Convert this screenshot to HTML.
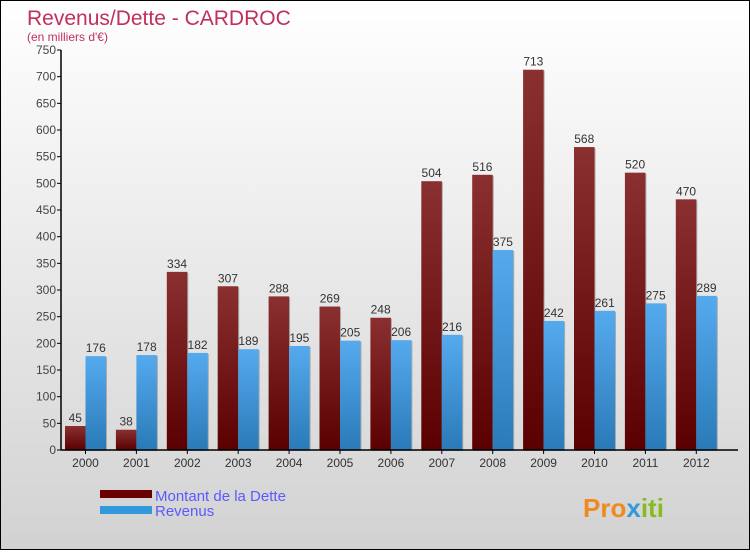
<!DOCTYPE html>
<html><head><meta charset="utf-8"><style>
body{margin:0;width:750px;height:550px;overflow:hidden;font-family:"Liberation Sans",sans-serif}
#c{position:relative;width:748px;height:548px;border:1px solid #000;background:linear-gradient(#ffffff,#d2d2d2)}
</style></head><body>
<div id="c">
<svg id="s" width="748" height="548" xmlns="http://www.w3.org/2000/svg">
<text x="26" y="24" font-size="21" fill="#c0305a">Revenus/Dette - CARDROC</text>
<text x="26" y="40" font-size="12" fill="#c0305a">(en milliers d'€)</text>
<g id="g"></g>
<rect x="99" y="489" width="52" height="8" fill="#6a0000"/>
<text x="154" y="500" font-size="15" fill="#5a5aff">Montant de la Dette</text>
<rect x="99" y="505" width="52" height="8" fill="#3399dd"/>
<text x="154" y="515" font-size="15" fill="#5a5aff">Revenus</text>
<text x="582" y="516" font-size="26" font-weight="bold" fill="#f08a20">Pro<tspan fill="#3399dd">x</tspan><tspan fill="#88bb22">iti</tspan></text>
</svg></div>
<script>
const years=["2000","2001","2002","2003","2004","2005","2006","2007","2008","2009","2010","2011","2012"];
const dette=[45,38,334,307,288,269,248,504,516,713,568,520,470];
const revenus=[176,178,182,189,195,205,206,216,375,242,261,275,289];
const ticks=[0,50,100,150,200,250,300,350,400,450,500,550,600,650,700,750];
const NS="http://www.w3.org/2000/svg",g=document.getElementById('g');
const y0=449,x0=60,step=50.9,bw=20.5;
const Y=v=>y0-v*400/750;
const X=i=>x0+4+i*step;
function mk(t,a,txt){const e=document.createElementNS(NS,t);for(const k in a)e.setAttribute(k,a[k]);if(txt!==undefined)e.textContent=txt;g.appendChild(e);return e;}
const defs=mk('defs',{});
defs.innerHTML='<linearGradient id="gd" x1="0" y1="0" x2="0" y2="1"><stop offset="0" stop-color="#8a3030"/><stop offset="1" stop-color="#5a0000"/></linearGradient><linearGradient id="gr" x1="0" y1="0" x2="0" y2="1"><stop offset="0" stop-color="#55aaee"/><stop offset="1" stop-color="#2a7ab8"/></linearGradient>';
ticks.forEach(t=>{
const l=mk('line',{x1:x0-4,x2:x0,y1:Y(t),y2:Y(t),stroke:'#000'});

const tx=mk('text',{x:x0-5,y:Y(t)+4,'text-anchor':'end','font-size':12,fill:'#444'},t);

});
years.forEach((yr,i)=>{
const xd=X(i),xr=xd+bw;
const sd=mk('rect',{x:xd+1,y:Y(dette[i])+1,width:bw,height:y0-Y(dette[i]),fill:'#aaa'});

const bd=mk('rect',{x:xd,y:Y(dette[i]),width:bw,height:y0-Y(dette[i]),fill:'url(#gd)'});

const sr=mk('rect',{x:xr+1,y:Y(revenus[i])+1,width:bw,height:y0-Y(revenus[i]),fill:'#aaa'});

const br=mk('rect',{x:xr,y:Y(revenus[i]),width:bw,height:y0-Y(revenus[i]),fill:'url(#gr)'});

const ld=mk('text',{x:xd+bw/2,y:Y(dette[i])-4,'text-anchor':'middle','font-size':12,fill:'#333'},dette[i]);

const lr=mk('text',{x:xr+bw/2,y:Y(revenus[i])-4,'text-anchor':'middle','font-size':12,fill:'#333'},revenus[i]);

const tk=mk('line',{x1:xr,x2:xr,y1:y0,y2:y0+4,stroke:'#000'});

const xl=mk('text',{x:xr,y:y0+17,'text-anchor':'middle','font-size':12,fill:'#333'},yr);

});
const ax=mk('line',{x1:x0,x2:x0,y1:Y(750),y2:y0,stroke:'#000','stroke-width':1.5});

const axx=mk('line',{x1:x0,x2:737,y1:y0,y2:y0,stroke:'#000','stroke-width':1.5});

</script>
</body></html>
